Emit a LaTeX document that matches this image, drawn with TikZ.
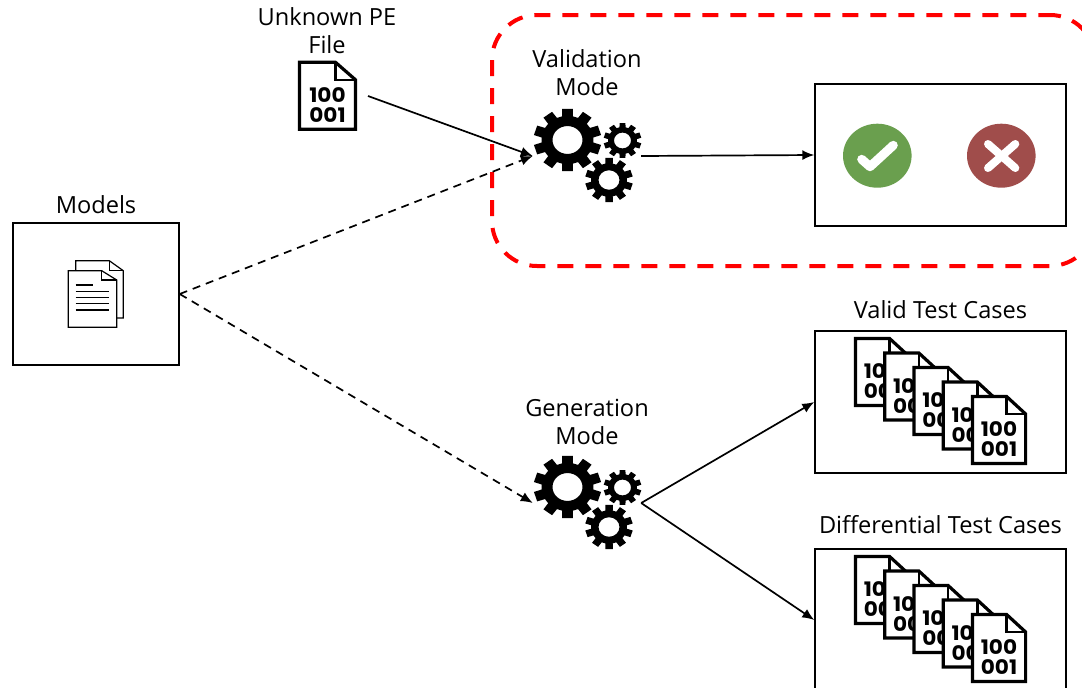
\documentclass[tikz,border=0pt]{standalone}
\usepackage{tikz,xcolor,fontspec}
\usetikzlibrary{arrows.meta, calc}
\setmainfont{Open Sans}
\newfontfamily\digitfont[FakeStretch=1.08]{Poppins Bold}

\definecolor{okgreen}{HTML}{6A9F4E}
\definecolor{badred}{HTML}{A04D4B}

\tikzset{
	box/.style={draw, line width=1.4pt, fill=white, minimum width=166pt, minimum height=142pt, inner sep=0pt},
	bigbox/.style={box, minimum width=251pt},
	caption/.style={align=center, font=\fontsize{23.6}{28}\selectfont, inner sep=0pt},
	flow/.style={line width=1.7pt, -{Latex[length=12pt, width=10pt]}},
	dashflow/.style={flow, dash pattern=on 8pt off 6pt},
	% one gear: outer radius, root radius, hole radius
	pics/cog/.style n args={3}{code={
		\fill[even odd rule, yscale=0.93] (-102:#2)
			\foreach \a in {-90,-54,...,234} {
				-- ($(\a-12:#2)$) -- ($(\a-9:#1)$) -- ($(\a+9:#1)$) -- ($(\a+12:#2)$)
			} -- cycle (0,0) circle (#3);
	}},
	pics/gears/.style={code={
		\pic at (-19.5,-16) {cog={34}{26}{15}};
		\pic at (35.5,-15.5) {cog={19}{14.5}{8.5}};
		\pic at (22,24) {cog={24}{18}{10.5}};
	}},
	% file with binary digits, origin at its centre
	pics/binfile/.style={code={
		\draw[line width=3.2pt, fill=white, line join=miter] (-28,-33.5) -- (8,-33.5) -- (28,-16) -- (28,33.5) -- (-28,33.5) -- cycle;
		\draw[line width=2.4pt] (8,-33.5) -- (8,-16) -- (28,-16);
		\node[inner sep=0pt, align=center, font=\fontsize{20}{20}\digitfont] at (0,9.5) {100\\001};
	}},
	pics/filestack/.style={code={
		\foreach \i in {0,...,4} {
			\pic[xscale=0.95] at (\i*29.25,\i*14.5) {binfile};
		}
	}},
}

\begin{document}
\begin{tikzpicture}[x=1pt, y=-1pt]

	\useasboundingbox (0,0) rectangle (1082,688);
	\clip (0,0) rectangle (1082,688);

	% red frame round the validation part
	\draw[red, line width=4pt, dash pattern=on 16pt off 12pt, rounded corners=45pt] (1000,15) -- (1095,15) -- (1095,266) -- (492,266) -- (492,15) -- cycle;

	% boxes
	\node[box] (models) at (96,294) {};
	\node[bigbox] (verdict) at (940.5,155) {};
	\node[bigbox] (valid) at (940.5,402) {};
	\node[bigbox] (differential) at (940.5,620) {};

	% labels
	\node[caption] (pelabel) at (327,31) {Unknown PE\\File};
	\node[caption] (modelslabel) at (96,205) {Models};
	\node[caption] (vallabel) at (587,73) {Validation\\Mode};
	\node[caption] (genlabel) at (587,422) {Generation\\Mode};
	\node[caption] (validlabel) at (940.5,310) {Valid Test Cases};
	\node[caption] (difflabel) at (940.5,525) {Differential Test Cases};

	% document icon in the models box
	\begin{scope}[line width=1.2pt]
		\draw[fill=white] (75.7,260.7) -- (109.3,260.7) -- (123.3,270.7) -- (123.3,318) -- (75.7,318) -- cycle;
		\draw (109.3,260.7) -- (109.3,270.7) -- (123.3,270.7);
		\draw[fill=white] (68.3,270.7) -- (101.7,270.7) -- (116.7,280) -- (116.7,327.3) -- (68.3,327.3) -- cycle;
		\draw (101.7,270.7) -- (101.7,280) -- (116.7,280);
		\draw (75.7,285) -- (92.7,285);
		\foreach \y in {291.7,297.7,303.7,310} {
			\draw (75.7,\y) -- (109.3,\y);
		}
	\end{scope}

	% input file
	\pic at (327.5,95.8) {binfile};
	\coordinate (pefile) at (368,96);

	% gears
	\node[minimum width=108pt, minimum height=90pt, inner sep=0pt] (valgears) at (587,156) {};
	\pic at (valgears.center) {gears};
	\node[minimum width=108pt, minimum height=90pt, inner sep=0pt] (gengears) at (587,503) {};
	\pic at (gengears.center) {gears};

	% pass and fail marks
	\fill[okgreen] (877.3,155.7) ellipse (34.3 and 32);
	\draw[white, line width=9pt, line cap=round, line join=round] (861.7,159.3) -- (870,166.7) -- (893.3,145.3);
	\fill[badred] (1001.3,155.7) ellipse (34.3 and 32);
	\draw[white, line width=8pt, line cap=round] (988,144) -- (1015.3,168);
	\draw[white, line width=8pt, line cap=round] (988,168) -- (1015.3,144);

	% test cases
	\pic at (882,372) {filestack};
	\pic at (882,590) {filestack};

	% connectors
	\draw[flow] (pefile) -- (valgears.west);
	\draw[dashflow] (models.east) -- (valgears.west);
	\draw[dashflow] (models.east) -- (gengears.west);
	\draw[flow] (valgears.east) -- (verdict.west);
	\draw[flow] (gengears.east) -- (valid.west);
	\draw[flow] (gengears.east) -- (differential.west);

\end{tikzpicture}
\end{document}
